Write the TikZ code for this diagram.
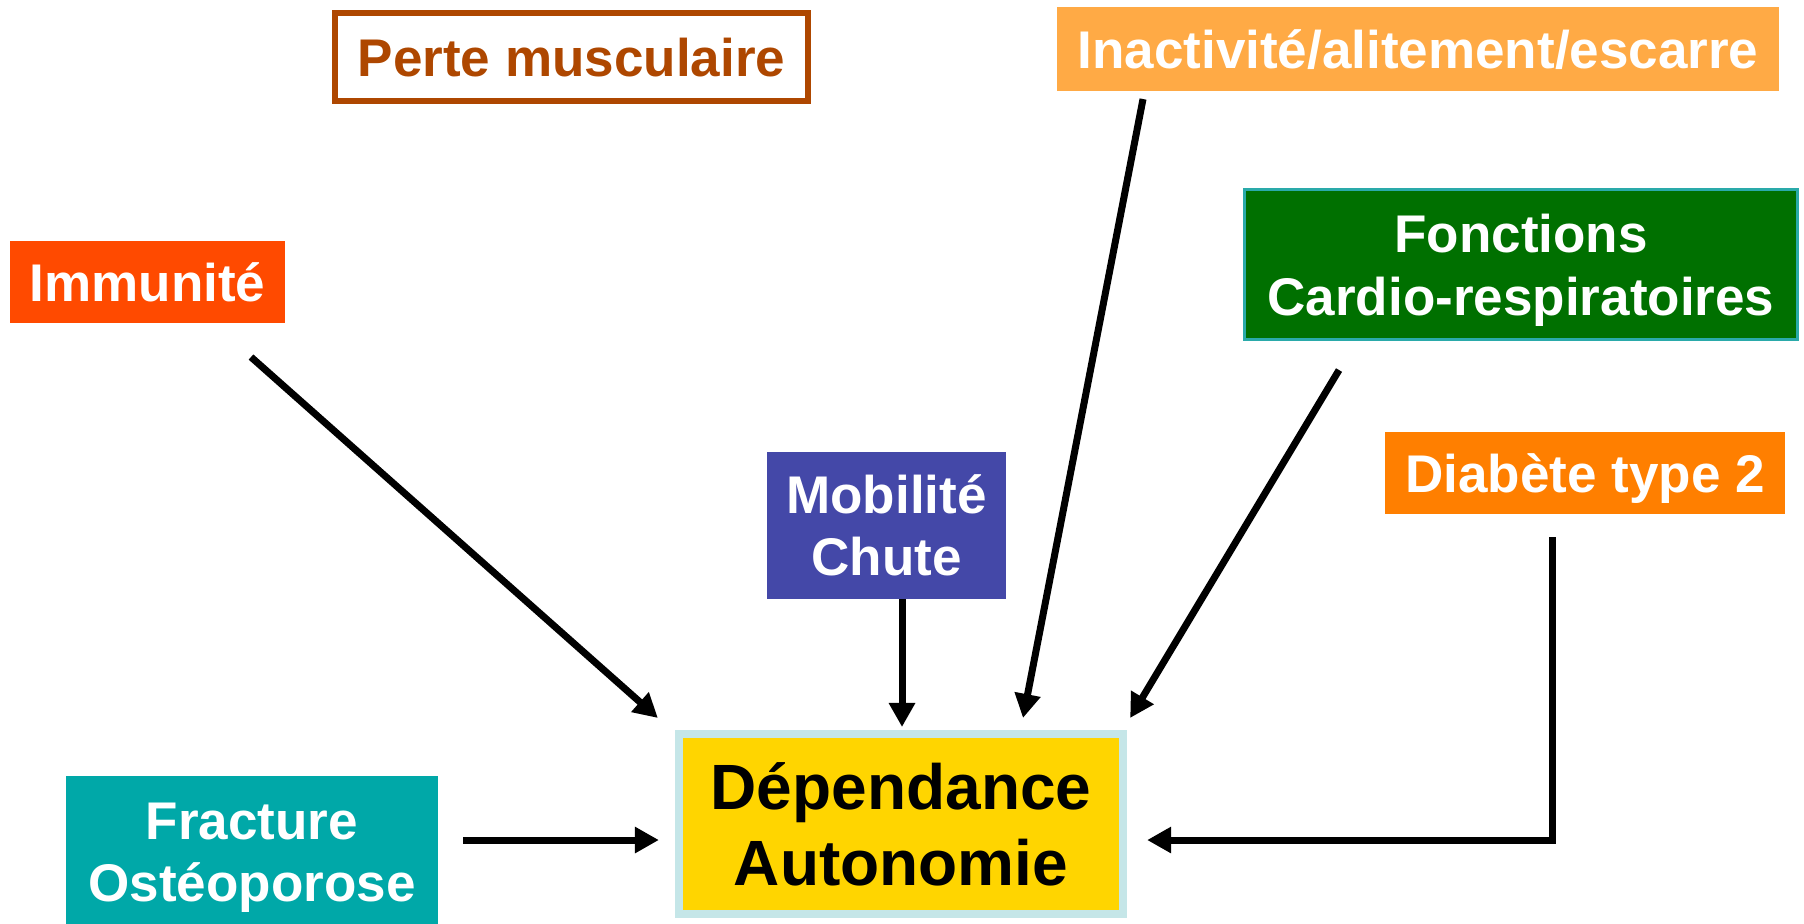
\documentclass[tikz,border=0pt]{standalone}
\usepackage{fontspec}
\setmainfont{Liberation Sans}
\usetikzlibrary{arrows.meta,calc}
\definecolor{brownc}{HTML}{AE4700}
\definecolor{inactc}{HTML}{FFAA45}
\definecolor{immunc}{HTML}{FF4A00}
\definecolor{greenc}{HTML}{007000}
\definecolor{tealb}{HTML}{2AAAAA}
\definecolor{mobilc}{HTML}{4448A8}
\definecolor{diabc}{HTML}{FF7F00}
\definecolor{fracc}{HTML}{00A8A8}
\definecolor{depc}{HTML}{FFD500}
\definecolor{depb}{HTML}{C5E6E8}
\begin{document}
\begin{tikzpicture}[x=0.01cm,y=-0.01cm,
  box/.style={rectangle,inner sep=0pt,outer sep=0pt,align=center,text depth=0pt,
    font=\bfseries\fontsize{15.08pt}{17.64pt}\selectfont,text=white},
  conn/.style={line width=0.07cm,-{Triangle[length=0.24cm,width=0.25cm]}}]
\useasboundingbox (0,0) rectangle (1804,923);
\clip (0,0) rectangle (1804,923);
\node[box,draw=brownc,line width=0.06cm,text=brownc,minimum width=4.73cm,minimum height=0.88cm] (perte) at (571.5,57) {Perte musculaire};
\node[box,fill=inactc,minimum width=7.22cm,minimum height=0.84cm] (inact) at (1418,49) {Inactivité/alitement/escarre};
\node[box,fill=immunc,minimum width=2.75cm,minimum height=0.82cm] (immun) at (147.5,282) {Immunité};
\node[box,fill=greenc,draw=tealb,line width=0.03cm,minimum width=5.52cm,minimum height=1.49cm,
  font=\bfseries\fontsize{15.08pt}{17.8pt}\selectfont] (fonct) at (1521,264.5) {Fonctions\\Cardio-respiratoires};
\node[box,fill=mobilc,minimum width=2.39cm,minimum height=1.47cm] (mobil) at (886.5,525.5) {Mobilité\\Chute};
\node[box,fill=diabc,minimum width=4cm,minimum height=0.82cm] (diab) at (1585,473) {Diabète type 2};
\node[box,fill=fracc,minimum width=3.72cm,minimum height=1.52cm] (frac) at (252,852) {Fracture\\Ostéoporose};
\node[box,fill=depc,draw=depb,line width=0.08cm,text=black,
  font=\bfseries\fontsize{18.2pt}{21.34pt}\selectfont,minimum width=4.44cm,minimum height=1.80cm] (dep) at (901,824) {Dépendance\\Autonomie};
\draw[conn] ($(immun.south)+(103.5,34)$) -- ($(dep.north west)+(-21,-16)$);
\draw[conn] ($(mobil.south)+(15.5,0)$) -- ($(dep.north)+(1,-7)$);
\draw[conn] ($(inact.south)+(-275,8)$) -- ($(dep.north)+(122,-16)$);
\draw[conn] ($(fonct.south)+(-182,31)$) -- ($(dep.north east)+(7,-16)$);
\draw[conn] ($(diab.south)+(-33,23)$) |- ($(dep.east)+(24,16)$);
\draw[conn] ($(frac.east)+(25,-12)$) -- ($(dep.west)+(-20,16)$);
\end{tikzpicture}
\end{document}
